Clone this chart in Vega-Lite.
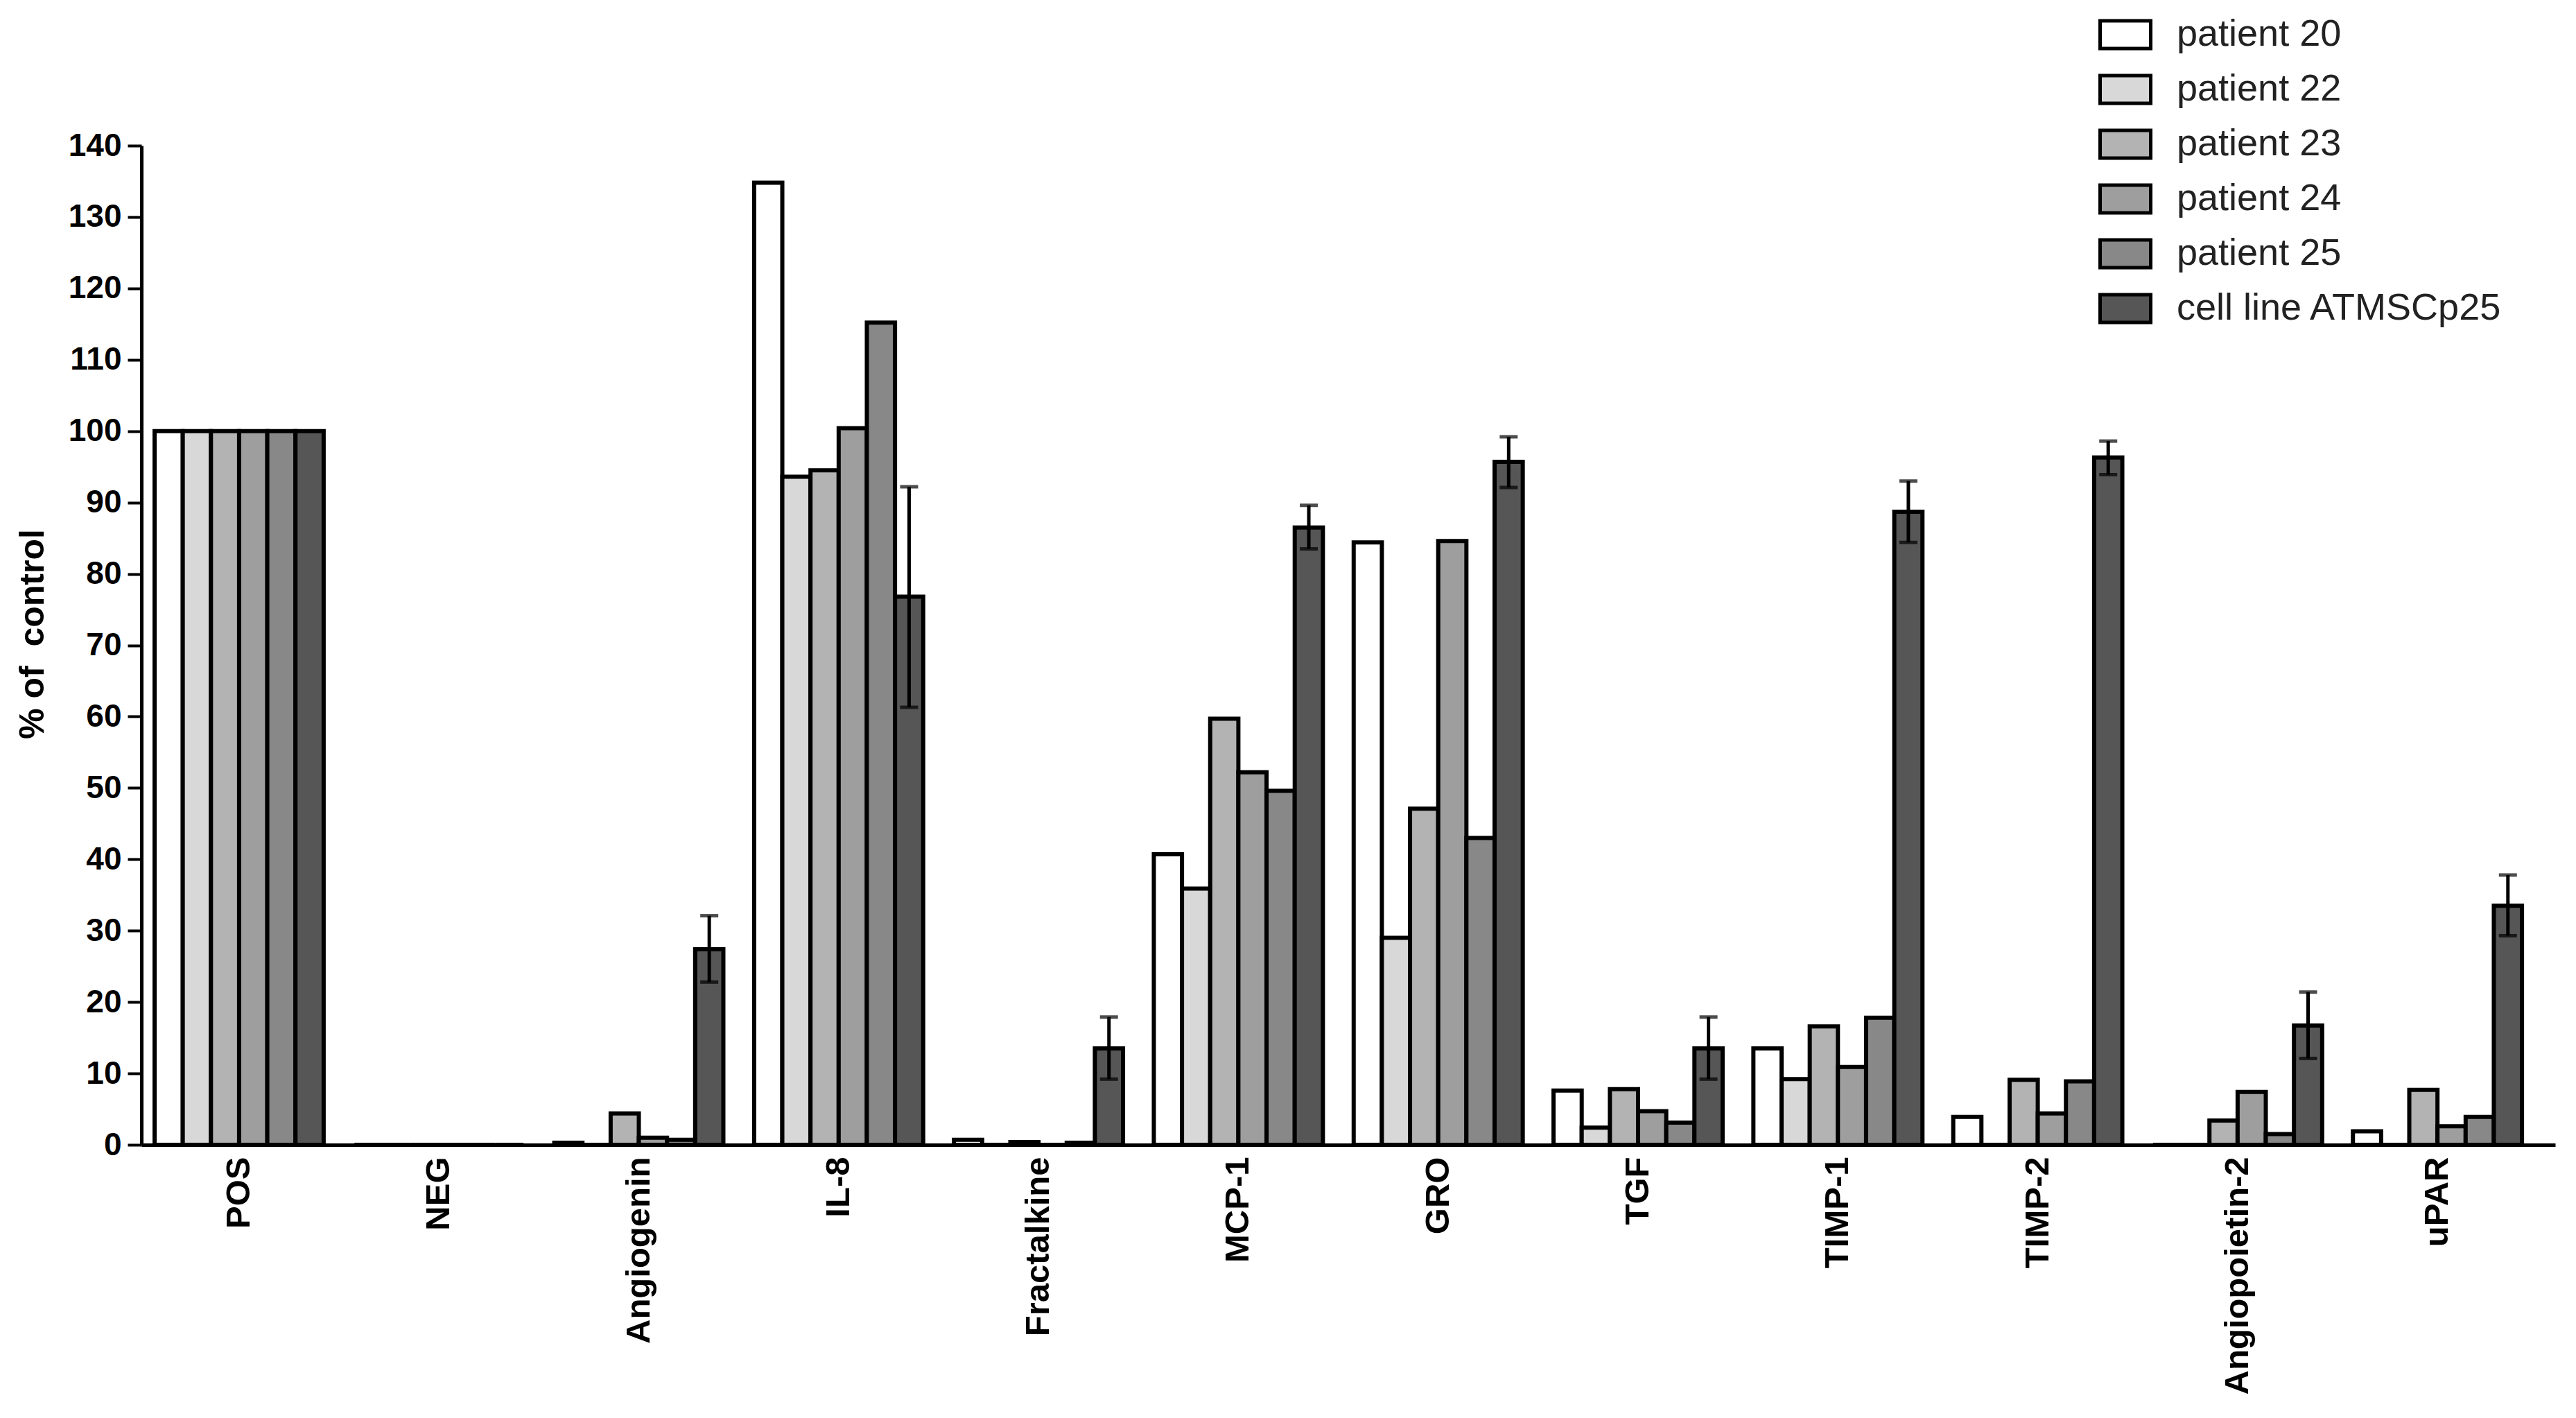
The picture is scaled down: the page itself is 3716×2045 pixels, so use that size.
{
  "$schema": "https://vega.github.io/schema/vega-lite/v6.json",
  "width": 3482,
  "height": 1441,
  "autosize": {"type": "none"},
  "padding": {"left": 204, "top": 210, "right": 30, "bottom": 394},
  "background": "white",
  "config": {"view": {"stroke": null}, "font": "Liberation Sans"},
  "data": {
    "values": [
      {"cytokine": "POS", "series": "patient 20", "value": 100},
      {"cytokine": "POS", "series": "patient 22", "value": 100},
      {"cytokine": "POS", "series": "patient 23", "value": 100},
      {"cytokine": "POS", "series": "patient 24", "value": 100},
      {"cytokine": "POS", "series": "patient 25", "value": 100},
      {"cytokine": "POS", "series": "cell line ATMSCp25", "value": 100},
      {"cytokine": "NEG", "series": "patient 20", "value": 0},
      {"cytokine": "NEG", "series": "patient 22", "value": 0},
      {"cytokine": "NEG", "series": "patient 23", "value": 0},
      {"cytokine": "NEG", "series": "patient 24", "value": 0},
      {"cytokine": "NEG", "series": "patient 25", "value": 0},
      {"cytokine": "NEG", "series": "cell line ATMSCp25", "value": 0},
      {"cytokine": "Angiogenin", "series": "patient 20", "value": 0.3},
      {"cytokine": "Angiogenin", "series": "patient 22", "value": 0},
      {"cytokine": "Angiogenin", "series": "patient 23", "value": 4.4},
      {"cytokine": "Angiogenin", "series": "patient 24", "value": 1.0},
      {"cytokine": "Angiogenin", "series": "patient 25", "value": 0.7},
      {"cytokine": "Angiogenin", "series": "cell line ATMSCp25", "value": 27.4, "lo": 22.8, "hi": 32.1},
      {"cytokine": "IL-8", "series": "patient 20", "value": 134.8},
      {"cytokine": "IL-8", "series": "patient 22", "value": 93.6},
      {"cytokine": "IL-8", "series": "patient 23", "value": 94.5},
      {"cytokine": "IL-8", "series": "patient 24", "value": 100.4},
      {"cytokine": "IL-8", "series": "patient 25", "value": 115.2},
      {"cytokine": "IL-8", "series": "cell line ATMSCp25", "value": 76.8, "lo": 61.3, "hi": 92.2},
      {"cytokine": "Fractalkine", "series": "patient 20", "value": 0.7},
      {"cytokine": "Fractalkine", "series": "patient 22", "value": 0},
      {"cytokine": "Fractalkine", "series": "patient 23", "value": 0.4},
      {"cytokine": "Fractalkine", "series": "patient 24", "value": 0},
      {"cytokine": "Fractalkine", "series": "patient 25", "value": 0.3},
      {"cytokine": "Fractalkine", "series": "cell line ATMSCp25", "value": 13.5, "lo": 9.2, "hi": 17.9},
      {"cytokine": "MCP-1", "series": "patient 20", "value": 40.7},
      {"cytokine": "MCP-1", "series": "patient 22", "value": 35.9},
      {"cytokine": "MCP-1", "series": "patient 23", "value": 59.7},
      {"cytokine": "MCP-1", "series": "patient 24", "value": 52.2},
      {"cytokine": "MCP-1", "series": "patient 25", "value": 49.6},
      {"cytokine": "MCP-1", "series": "cell line ATMSCp25", "value": 86.5, "lo": 83.5, "hi": 89.6},
      {"cytokine": "GRO", "series": "patient 20", "value": 84.4},
      {"cytokine": "GRO", "series": "patient 22", "value": 29.0},
      {"cytokine": "GRO", "series": "patient 23", "value": 47.1},
      {"cytokine": "GRO", "series": "patient 24", "value": 84.6},
      {"cytokine": "GRO", "series": "patient 25", "value": 43.0},
      {"cytokine": "GRO", "series": "cell line ATMSCp25", "value": 95.7, "lo": 92.1, "hi": 99.2},
      {"cytokine": "TGF", "series": "patient 20", "value": 7.6},
      {"cytokine": "TGF", "series": "patient 22", "value": 2.4},
      {"cytokine": "TGF", "series": "patient 23", "value": 7.8},
      {"cytokine": "TGF", "series": "patient 24", "value": 4.7},
      {"cytokine": "TGF", "series": "patient 25", "value": 3.1},
      {"cytokine": "TGF", "series": "cell line ATMSCp25", "value": 13.5, "lo": 9.2, "hi": 17.9},
      {"cytokine": "TIMP-1", "series": "patient 20", "value": 13.5},
      {"cytokine": "TIMP-1", "series": "patient 22", "value": 9.2},
      {"cytokine": "TIMP-1", "series": "patient 23", "value": 16.6},
      {"cytokine": "TIMP-1", "series": "patient 24", "value": 10.9},
      {"cytokine": "TIMP-1", "series": "patient 25", "value": 17.8},
      {"cytokine": "TIMP-1", "series": "cell line ATMSCp25", "value": 88.7, "lo": 84.4, "hi": 93.0},
      {"cytokine": "TIMP-2", "series": "patient 20", "value": 3.9},
      {"cytokine": "TIMP-2", "series": "patient 22", "value": 0},
      {"cytokine": "TIMP-2", "series": "patient 23", "value": 9.1},
      {"cytokine": "TIMP-2", "series": "patient 24", "value": 4.4},
      {"cytokine": "TIMP-2", "series": "patient 25", "value": 8.9},
      {"cytokine": "TIMP-2", "series": "cell line ATMSCp25", "value": 96.3, "lo": 93.9, "hi": 98.6},
      {"cytokine": "Angiopoietin-2", "series": "patient 20", "value": 0},
      {"cytokine": "Angiopoietin-2", "series": "patient 22", "value": 0},
      {"cytokine": "Angiopoietin-2", "series": "patient 23", "value": 3.4},
      {"cytokine": "Angiopoietin-2", "series": "patient 24", "value": 7.4},
      {"cytokine": "Angiopoietin-2", "series": "patient 25", "value": 1.5},
      {"cytokine": "Angiopoietin-2", "series": "cell line ATMSCp25", "value": 16.7, "lo": 12.1, "hi": 21.4},
      {"cytokine": "uPAR", "series": "patient 20", "value": 1.9},
      {"cytokine": "uPAR", "series": "patient 22", "value": 0},
      {"cytokine": "uPAR", "series": "patient 23", "value": 7.7},
      {"cytokine": "uPAR", "series": "patient 24", "value": 2.6},
      {"cytokine": "uPAR", "series": "patient 25", "value": 3.9},
      {"cytokine": "uPAR", "series": "cell line ATMSCp25", "value": 33.5, "lo": 29.3, "hi": 37.8}
    ]
  },
  "encoding": {
    "x": {
      "field": "cytokine",
      "type": "nominal",
      "sort": ["POS", "NEG", "Angiogenin", "IL-8", "Fractalkine", "MCP-1", "GRO", "TGF", "TIMP-1", "TIMP-2", "Angiopoietin-2", "uPAR"],
      "scale": {"paddingInner": 0.154, "paddingOuter": 0.116, "align": 0.284},
      "axis": {
        "title": null,
        "labelAngle": 270,
        "labelAlign": "right",
        "labelBaseline": "middle",
        "labelFont": "Liberation Sans",
        "labelFontWeight": "bold",
        "labelFontSize": 49,
        "labelColor": "black",
        "labelPadding": 17,
        "labelLimit": 0,
        "ticks": false,
        "domainColor": "black",
        "domainWidth": 5
      }
    },
    "xOffset": {
      "field": "series",
      "type": "nominal",
      "sort": ["patient 20", "patient 22", "patient 23", "patient 24", "patient 25", "cell line ATMSCp25"],
      "scale": {"domain": ["patient 20", "patient 22", "patient 23", "patient 24", "patient 25", "cell line ATMSCp25"], "paddingInner": 0, "paddingOuter": 0}
    }
  },
  "layer": [
    {
      "mark": {"type": "bar", "stroke": "black", "strokeWidth": 6, "strokeJoin": "miter"},
      "encoding": {
        "y": {
          "field": "value",
          "type": "quantitative",
          "scale": {"domain": [0, 140], "nice": false},
          "axis": {
            "values": [0, 10, 20, 30, 40, 50, 60, 70, 80, 90, 100, 110, 120, 130, 140],
            "grid": false,
            "tickSize": 20,
            "tickWidth": 4,
            "tickColor": "black",
            "domainColor": "black",
            "domainWidth": 5,
            "labelFont": "Liberation Sans",
            "labelFontWeight": "bold",
            "labelFontSize": 46,
            "labelColor": "black",
            "labelPadding": 9,
            "title": "% of\u00a0 control",
            "titleFont": "Liberation Sans",
            "titleFontSize": 50,
            "titleFontWeight": "bold",
            "titleColor": "black",
            "titleAngle": 270,
            "titleX": -142,
            "titleY": 704,
            "titleAlign": "center",
            "titleBaseline": "alphabetic"
          }
        },
        "fill": {
          "field": "series",
          "type": "nominal",
          "scale": {
            "domain": ["patient 20", "patient 22", "patient 23", "patient 24", "patient 25", "cell line ATMSCp25"],
            "range": ["#ffffff", "#d8d8d8", "#b3b3b3", "#9e9e9e", "#888888", "#565656"]
          },
          "legend": {
            "orient": "none",
            "legendX": 2823,
            "legendY": -199,
            "title": null,
            "padding": 0,
            "symbolType": "M-1,-0.548H1V0.548H-1Z",
            "symbolSize": 5329,
            "symbolStrokeColor": "black",
            "symbolStrokeWidth": 5,
            "labelFont": "Liberation Sans",
            "labelFontSize": 54,
            "labelColor": "#222222",
            "labelOffset": 35,
            "labelLimit": 0,
            "rowPadding": 9
          }
        }
      }
    },
    {
      "transform": [{"filter": "isValid(datum.hi)"}],
      "mark": {"type": "rule", "strokeWidth": 5, "color": "black"},
      "encoding": {
        "y": {"field": "lo", "type": "quantitative"},
        "y2": {"field": "hi"}
      }
    },
    {
      "transform": [{"filter": "isValid(datum.hi)"}],
      "mark": {"type": "tick", "orient": "horizontal", "size": 26, "thickness": 5, "color": "black"},
      "encoding": {
        "y": {"field": "hi", "type": "quantitative"}
      }
    },
    {
      "transform": [{"filter": "isValid(datum.hi)"}],
      "mark": {"type": "tick", "orient": "horizontal", "size": 26, "thickness": 5, "color": "black"},
      "encoding": {
        "y": {"field": "lo", "type": "quantitative"}
      }
    }
  ]
}
